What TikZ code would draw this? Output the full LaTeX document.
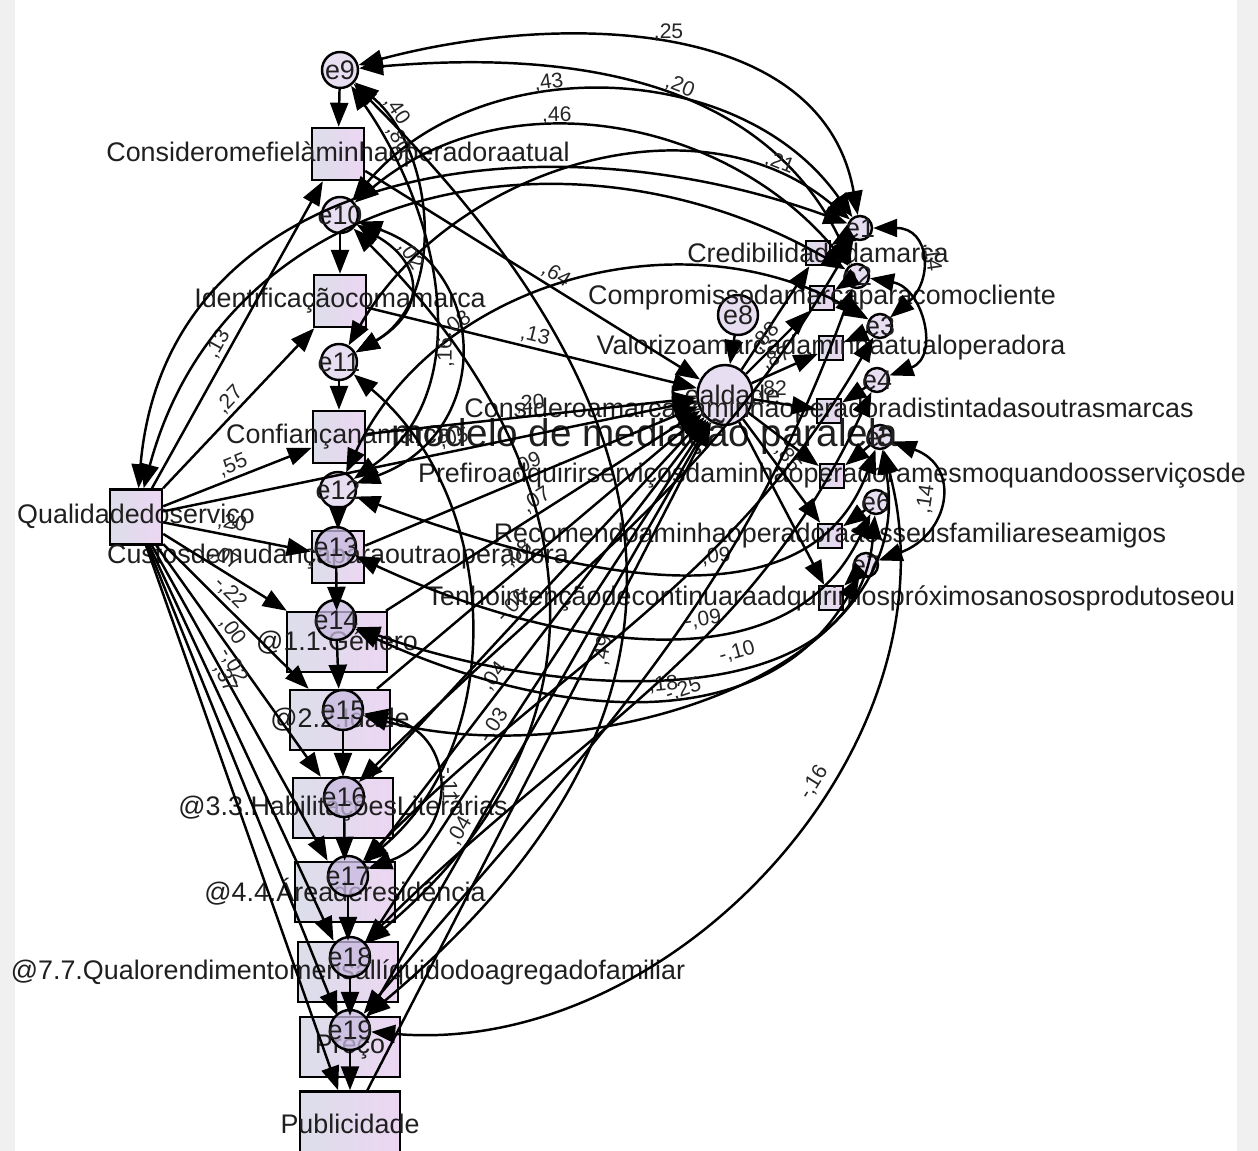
\documentclass[tikz,border=0pt]{standalone}
\usepackage{fontspec}
\setmainfont{Liberation Sans}
\usetikzlibrary{arrows.meta, positioning, shapes.geometric}
\definecolor{boxL}{RGB}{220,222,234}
\definecolor{boxR}{RGB}{236,214,242}
\definecolor{errFill}{RGB}{232,222,242}
\definecolor{errDark}{RGB}{200,186,224}
\definecolor{frameGray}{RGB}{240,240,240}
\tikzstyle{obsvar} = [rectangle, draw=black, line width=1.4pt, left color=boxL, right color=boxR, minimum width=1.04cm, minimum height=1.04cm, inner sep=0pt]
\tikzstyle{demvar} = [obsvar, minimum width=2cm, minimum height=1.2cm]
\tikzstyle{indvar} = [obsvar, minimum width=0.48cm, minimum height=0.48cm]
\tikzstyle{errvar} = [circle, draw=black, line width=1.4pt, fill=errFill, minimum size=0.72cm, inner sep=0pt]
\tikzstyle{errbig} = [errvar, fill=errDark, fill opacity=0.75, text opacity=1, minimum size=0.8cm]
\tikzstyle{errsmall} = [errvar, minimum size=0.48cm]
\tikzstyle{latent} = [ellipse, draw=black, line width=1.4pt, fill=errFill, minimum width=1.1cm, minimum height=1.2cm, inner sep=0pt]
\tikzstyle{varname} = [font=\fontsize{15.3}{18}\selectfont, text=black!88, inner sep=0pt]
\tikzstyle{coef} = [font=\fontsize{12}{14}\selectfont, text=black!85, inner sep=1.5pt]
\tikzstyle{reg} = [line width=1.4pt, -{Triangle[length=0.48cm, width=0.36cm]}]
\tikzstyle{cov} = [line width=1.4pt, {Triangle[length=0.48cm, width=0.36cm]}-{Triangle[length=0.48cm, width=0.36cm]}]

\begin{document}
\begin{tikzpicture}[x=0.02cm, y=-0.02cm]
        \useasboundingbox (0,0) rectangle (1258,1151);
        \fill[frameGray] (0,0) rectangle (15,1151);
        \fill[frameGray] (1237,0) rectangle (1258,1151);

        % Nodes: mediators and demographics
        \node (qual) [obsvar, minimum height=1.1cm, label={[varname, name=qual-t]center:Qualidadedoserviço}] at (136,517) {};
        \node (fiel) [obsvar, label={[varname, name=fiel-t]center:Consideromefielàminhaoperadoraatual}] at (338,154) {};
        \node (ident) [obsvar, label={[varname, name=ident-t]center:Identificaçãocomamarca}] at (340,301) {};
        \node (conf) [obsvar, label={[varname, name=conf-t]center:Confiançanamarca}] at (339,437) {};
        \node (custo) [obsvar, label={[varname, name=custo-t]center:Custosdemudançaparaoutraoperadora}] at (338,557) {};
        \node (gen) [demvar, label={[varname, name=gen-t]center:@1.1.Género}] at (337,642) {};
        \node (idade) [demvar, label={[varname, name=idade-t]center:@2.2.Idade}] at (340,720) {};
        \node (hab) [demvar, label={[varname, name=hab-t]center:@3.3.HabilitaçõesLiterárias}] at (343,808) {};
        \node (area) [demvar, label={[varname, name=area-t]center:@4.4.Áreaderesidência}] at (345,892) {};
        \node (rend) [demvar, label={[varname, name=rend-t]center:@7.7.Qualorendimentomensallíquidodoagregadofamiliar}] at (348,972) {};
        \node (preco) [demvar, label={[varname, name=preco-t]center:Preço}] at (350,1047) {};
        \node (publ) [demvar, minimum height=1.3cm, label={[varname, name=publ-t]center:Publicidade}] at (350,1124) {};

        % Nodes: error terms on the left
        \node (e9) [errvar, label={[varname]center:e9}] at (340,70) {};
        \node (e10) [errvar, label={[varname]center:e10}] at (340,215) {};
        \node (e11) [errvar, label={[varname]center:e11}] at (339,362) {};
        \node (e12) [errvar, label={[varname]center:e12}] at (338,490) {};
        \node (e13) [errbig, label={[varname]center:e13}] at (336,547) {};
        \node (e14) [errbig, label={[varname]center:e14}] at (336,620) {};
        \node (e15) [errbig, label={[varname]center:e15}] at (343,710) {};
        \node (e16) [errbig, label={[varname]center:e16}] at (344,797) {};
        \node (e17) [errbig, label={[varname]center:e17}] at (348,876) {};
        \node (e18) [errbig, label={[varname]center:e18}] at (350,957) {};
        \node (e19) [errbig, label={[varname]center:e19}] at (350,1030) {};

        % Nodes: loyalty and its indicators
        \node (leal) [latent, label={[varname, name=leal-t]center:Lealdade}] at (725,395) {};
        \node (e8) [errvar, minimum height=0.8cm, label={[varname]center:e8}] at (738,315) {};
        \node (cred) [indvar, label={[varname, name=cred-t]center:Credibilidadedamarca}] at (818,253) {};
        \node (comp) [indvar, label={[varname, name=comp-t]center:Compromissodamarcaparacomocliente}] at (822,298) {};
        \node (valor) [indvar, label={[varname, name=valor-t]center:Valorizoamarcadaminhaatualoperadora}] at (831,348) {};
        \node (dist) [indvar, label={[varname, name=dist-t]center:Consideroamarcadaminhaoperadoradistintadasoutrasmarcas}] at (829,411) {};
        \node (pref) [indvar, label={[varname, name=pref-t]center:Prefiroadquirirserviçosdaminhaoperadoramesmoquandoosserviçosde}] at (832,476) {};
        \node (recom) [indvar, label={[varname, name=recom-t]center:Recomendoaminhaoperadoraaosseusfamiliareseamigos}] at (830,536) {};
        \node (tenho) [indvar, label={[varname, name=tenho-t]center:Tenhointençãodecontinuaraadquirirnospróximosanososprodutoseou}] at (831,598) {};
        \node (e1) [errsmall, label={[varname]center:e1}] at (860,228) {};
        \node (e2) [errsmall, label={[varname]center:e2}] at (857,276) {};
        \node (e3) [errsmall, label={[varname]center:e3}] at (880,326) {};
        \node (e4) [errsmall, label={[varname]center:e4}] at (877,380) {};
        \node (e5) [errsmall, label={[varname]center:e5}] at (880,437) {};
        \node (e6) [errsmall, label={[varname]center:e6}] at (876,502) {};
        \node (e7) [errsmall, label={[varname]center:e7}] at (866,565) {};

        \node (title) [font=\fontsize{22}{26}\selectfont, text=black!88, inner sep=0pt] at (645,437) {modelo de mediação paralela};

        % Arrows: error terms
        \foreach \e/\v in {e9/fiel, e10/ident, e11/conf, e12/custo, e13/gen, e14/idade, e15/hab, e16/area, e17/rend, e18/preco, e19/publ, e8/leal, e1/cred, e2/comp, e3/valor, e4/dist, e5/pref, e6/recom, e7/tenho}
            \draw [reg] (\e) -- (\v);

        % Arrows: loyalty to its indicators
        \draw [reg] (leal) -- (cred);
        \draw [reg] (leal) -- node[coef, sloped, above, pos=0.45] {,88} (comp);
        \draw [reg] (leal) -- node[coef, sloped, above, pos=0.45] {,87} (valor);
        \draw [reg] (leal) -- node[coef, above, pos=0.3] {,82} (dist);
        \draw [reg] (leal) -- (pref);
        \draw [reg] (leal) -- node[coef, sloped, above, pos=0.45] {,85} (recom);
        \draw [reg] (leal) -- (tenho);

        % Arrows: service quality
        \draw [reg] (qual) -- node[coef, sloped, above, pos=0.45] {,13} (fiel);
        \draw [reg] (qual) -- node[coef, sloped, above, pos=0.5] {,27} (ident);
        \draw [reg] (qual) -- node[coef, sloped, above, pos=0.5] {,55} (conf);
        \draw [reg] (qual) -- node[coef, sloped, above, pos=0.45] {,20} (custo);
        \draw [reg] (qual) -- node[coef, sloped, above, pos=0.45] {,07} (gen);
        \draw [reg] (qual) -- node[coef, sloped, above, pos=0.4] {-,22} (idade);
        \draw [reg] (qual) -- node[coef, sloped, above, pos=0.4] {,00} (hab);
        \draw [reg] (qual) -- node[coef, sloped, above, pos=0.4] {-,02} (area);
        \draw [reg] (qual) -- node[coef, sloped, above, pos=0.35] {,37} (rend);
        \draw [reg] (qual) -- (preco);
        \draw [reg] (qual) -- (publ);
        \draw [reg] (qual) -- node[coef, sloped, above, pos=0.55] {,05} (leal);

        % Arrows: mediators and controls to loyalty
        \draw [reg] (fiel) -- node[coef, sloped, above, pos=0.55] {,64} (leal);
        \draw [reg] (ident) -- node[coef, sloped, above, pos=0.5] {,13} (leal);
        \draw [reg] (conf) -- node[coef, sloped, above, pos=0.5] {,20} (leal);
        \draw [reg] (custo) -- node[coef, sloped, above, pos=0.5] {,09} (leal);
        \draw [reg] (gen) -- node[coef, sloped, above, pos=0.5] {,07} (leal);
        \draw [reg] (idade) -- node[coef, sloped, above, pos=0.45] {-,08} (leal);
        \draw [reg] (hab) -- node[coef, sloped, above, pos=0.45] {-,06} (leal);
        \draw [reg] (area) -- node[coef, sloped, above, pos=0.4] {,04} (leal);
        \draw [reg] (rend) -- node[coef, sloped, above, pos=0.4] {-,03} (leal);
        \draw [reg] (preco) -- node[coef, sloped, above, pos=0.3] {,04} (leal);
        \draw [reg] (publ) -- (leal);

        % Covariances: upper arcs
        \draw [cov] (e9) to[out=15, in=100] node[coef, above, pos=0.5] {,25} (e1);
        \draw [cov] (e9) to[out=5, in=115] node[coef, sloped, above, pos=0.55] {,20} (e2);
        \draw [cov] (e10) to[out=50, in=125] node[coef, sloped, above, pos=0.4] {,43} (e1);
        \draw [cov] (e10) to[out=40, in=130] node[coef, sloped, above, pos=0.4] {,46} (e2);
        \draw [cov] (e11) to[out=60, in=140] node[coef, sloped, above, pos=0.85] {,21} (e1);
        \draw [cov] (e12) to[out=65, in=150] node[coef, sloped, above, pos=0.3] {,08} (e3);
        \draw [cov] (qual) to[out=75, in=150, looseness=1.1] (e2);
        \draw [cov] (qual) to[out=85, in=160, looseness=1.1] (e1);

        % Covariances: loops down the left column
        \draw [cov] (e9) to[out=-40, in=30] node[coef, sloped, above, pos=0.15] {,40} (e11);
        \draw [cov] (e9) to[out=-55, in=35] node[coef, sloped, above, pos=0.15] {,80} (e12);
        \draw [cov] (e10) to[out=-20, in=20, looseness=1.4] node[coef, sloped, above, pos=0.5] {,16} (e12);
        \draw [cov] (e10) to[out=-30, in=30, looseness=1.6] node[coef, sloped, above, pos=0.3] {,02} (e11);
        \draw [cov] (e9) to[out=-45, in=40, looseness=1.3] node[coef, sloped, above, pos=0.6] {,49} (e19);
        \draw [cov] (e10) to[out=-45, in=40, looseness=1.2] (e18);
        \draw [cov] (e11) to[out=-40, in=40] (e17);
        \draw [cov] (e15) to[out=-10, in=20, looseness=1.6] node[coef, sloped, above, pos=0.5] {-,11} (e17);

        % Covariances: lower arcs to the right
        \draw [cov] (e12) to[out=-20, in=-110] node[coef, sloped, above, pos=0.6] {,09} (e5);
        \draw [cov] (e13) to[out=-25, in=-115] node[coef, sloped, above, pos=0.6] {-,09} (e6);
        \draw [cov] (e14) to[out=-25, in=-120] node[coef, sloped, above, pos=0.55] {,18} (e7);
        \draw [cov] (e14) to[out=-20, in=-95] node[coef, sloped, above, pos=0.6] {-,10} (e6);
        \draw [cov] (e15) to[out=-15, in=-80] node[coef, sloped, above, pos=0.45] {-,25} (e5);
        \draw [cov] (e19) to[out=-5, in=-75] node[coef, sloped, above, pos=0.6] {-,16} (e5);
        \draw [cov] (e17) to[out=45, in=-120] (e3);
        \draw [cov] (e18) to[out=45, in=-115] (e4);
        \draw [cov] (e19) to[out=50, in=-110] (e2);
        \draw [cov] (e16) to[out=45, in=-120] (e1);

        % Covariances: indicator errors
        \draw [cov] (e1) to[out=0, in=40, looseness=1.6] node[coef, sloped, above, pos=0.5] {,14} (e3);
        \draw [cov] (e5) to[out=-20, in=20, looseness=1.6] node[coef, sloped, above, pos=0.5] {,14} (e7);
        \draw [cov] (e2) to[out=-10, in=20, looseness=1.4] (e4);
\end{tikzpicture}
\end{document}
